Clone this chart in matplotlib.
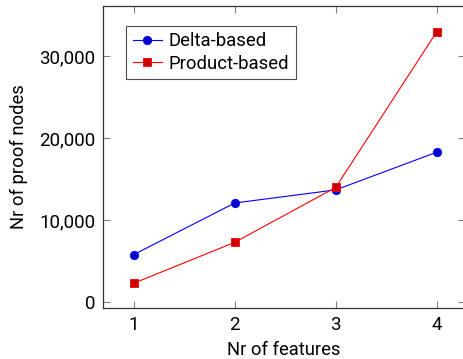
import matplotlib
matplotlib.use('Agg')
import matplotlib.pyplot as plt
from matplotlib.ticker import FuncFormatter

plt.rcParams['font.family'] = ['Roboto', 'DejaVu Sans']

# Data
features = [1, 2, 3, 4]
delta_based = [5800, 12100, 13700, 18300]
product_based = [2300, 7300, 14000, 33000]

fig = plt.figure(figsize=(4.64, 3.59), dpi=100)
ax = fig.add_axes([0.222, 0.142, 0.78, 0.841])

ax.plot(features, delta_based, color='#0000ff', linewidth=0.8, marker='o',
        markersize=6, markerfacecolor='#0000cc', markeredgecolor='#0000ff',
        markeredgewidth=0.6, label='Delta-based')
ax.plot(features, product_based, color='#ff0000', linewidth=0.8, marker='s',
        markersize=6, markerfacecolor='#cc0000', markeredgecolor='#ff0000',
        markeredgewidth=0.6, label='Product-based')

ax.set_xlim(0.695, 4.28)
ax.set_ylim(-730, 36150)
ax.set_xticks(features)
ax.set_yticks([0, 10000, 20000, 30000])
ax.yaxis.set_major_formatter(FuncFormatter(lambda v, p: f'{int(v):,}'))

ax.tick_params(direction='in', length=5, width=0.8, color='#808080',
               top=True, right=True, labelsize=13.5, pad=5.5)
for s in ax.spines.values():
    s.set_linewidth(0.9)
    s.set_color('#333333')

ax.set_xlabel('Nr of features', fontsize=13.2, labelpad=5)
ax.set_ylabel('Nr of proof nodes', fontsize=13.2, labelpad=8)

leg = ax.legend(loc='upper left', bbox_to_anchor=(0.064, 0.935), fontsize=13.3,
                frameon=True, fancybox=False, edgecolor='#222222',
                borderpad=0.35, handlelength=1.6, handletextpad=0.35,
                labelspacing=0.25, borderaxespad=0)
leg.get_frame().set_linewidth(0.8)

fig.savefig('out.png', dpi=100)
